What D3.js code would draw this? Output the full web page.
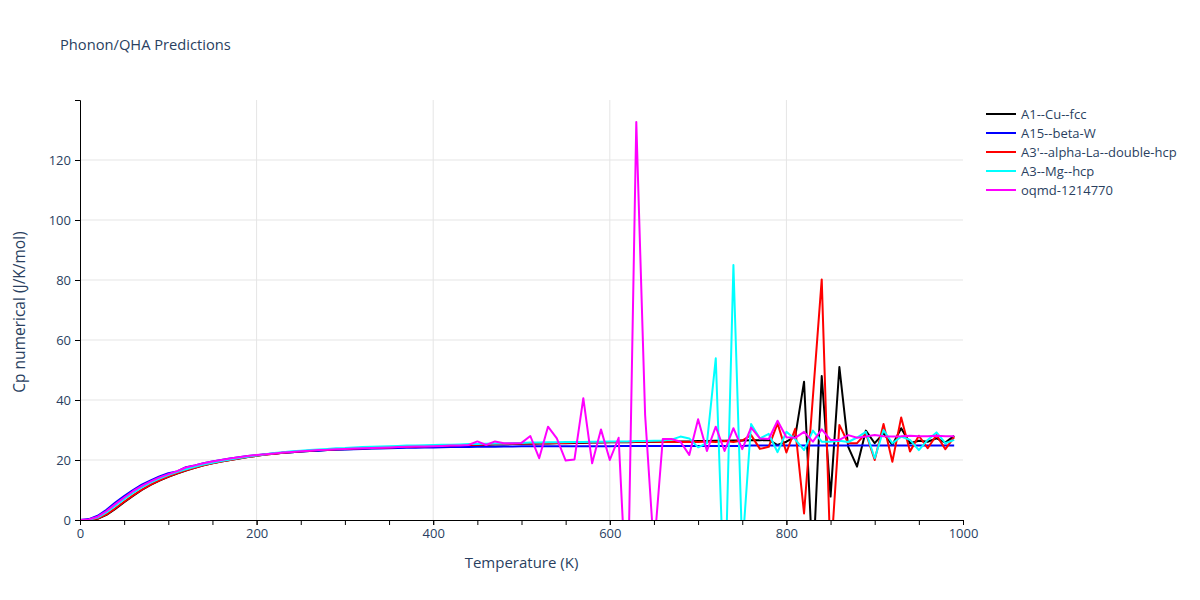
<!DOCTYPE html>
<html>
<head>
<meta charset="utf-8">
<script src="https://cdn.jsdelivr.net/npm/d3@7"></script>
<style>
    body { margin: 0; background: #fff; }
    text { font-family: "Open Sans", verdana, arial, sans-serif; }
</style>
</head>
<body>
<div id="chart"></div>
<script>
// Temperatures (K), one point every 10 K
var temps = d3.range(0, 1000, 10);

// Cp numerical (J/K/mol) for each structure
var cuFcc = [0, 0.05, 0.4, 1.7, 3.7, 5.9, 8.0, 10.0, 11.7, 13.1, 14.4, 15.5, 16.5, 17.4, 18.2, 18.9, 19.5, 20.0, 20.5, 21.0,
    21.4, 21.8, 22.1, 22.4, 22.6, 22.8, 23.0, 23.2, 23.3, 23.5, 23.6, 23.7, 23.8, 23.9, 24.0, 24.1, 24.2, 24.3, 24.4, 24.5,
    24.6, 24.7, 24.8, 24.9, 24.9, 25.0, 25.1, 25.2, 25.2, 25.3, 25.4, 25.4, 25.5, 25.5, 25.6, 25.6, 25.7, 25.7, 25.8, 25.8,
    25.9, 25.9, 25.9, 26.0, 26.0, 26.0, 26.1, 26.1, 26.2, 26.2, 26.3, 26.3, 26.4, 26.4, 26.5, 26.5, 26.6, 26.6, 26.7, 25.0,
    26.1, 27.8, 46.1, -16, 48.0, 7.8, 51.0, 24.4, 17.8, 29.8, 25.6, 28.9, 25.0, 30.6, 25.6, 26.4, 26.1, 27.2, 25.8, 28.1];

var betaW = [0, 0.3, 1.4, 3.4, 5.8, 8.0, 10.0, 11.8, 13.2, 14.5, 15.6, 16.2, 17.6, 18.2, 18.9, 19.5, 20.0, 20.5, 20.9, 21.3,
    21.6, 21.9, 22.2, 22.4, 22.6, 22.8, 23.0, 23.1, 23.3, 23.4, 23.5, 23.6, 23.7, 23.8, 23.85, 23.9, 24.0, 24.05, 24.1, 24.15,
    24.2, 24.25, 24.3, 24.3, 24.35, 24.4, 24.4, 24.45, 24.5, 24.5, 24.55, 24.6, 24.6, 24.6, 24.6, 24.6, 24.6, 24.6, 24.6, 24.6,
    24.6, 24.7, 24.7, 24.7, 24.7, 24.7, 24.7, 24.7, 24.7, 24.7, 24.7, 24.7, 24.7, 24.7, 24.7, 24.7, 24.8, 24.8, 24.8, 24.8,
    24.8, 24.8, 24.8, 24.8, 24.8, 24.8, 24.8, 24.8, 24.8, 24.8, 24.8, 24.8, 24.8, 24.8, 24.8, 24.8, 24.8, 24.8, 24.8, 24.8];

var alphaLa = [0, 0.05, 0.5, 1.9, 3.9, 6.1, 8.2, 10.1, 11.8, 13.2, 14.5, 15.6, 16.6, 17.4, 18.2, 18.9, 19.5, 20.0, 20.5, 21.0,
    21.4, 21.8, 22.1, 22.4, 22.7, 22.9, 23.1, 23.3, 23.4, 23.6, 23.7, 23.8, 23.9, 24.0, 24.1, 24.2, 24.3, 24.4, 24.5, 24.6,
    24.7, 24.8, 24.9, 25.0, 25.0, 25.1, 25.2, 25.3, 25.3, 25.4, 25.5, 25.5, 25.6, 25.6, 25.7, 25.7, 25.8, 25.8, 25.9, 25.9,
    26.0, 26.0, 26.0, 26.1, 26.1, 26.1, 26.0, 26.0, 26.0, 26.0, 26.0, 26.2, 26.0, 26.3, 26.0, 26.5, 28.3, 23.7, 24.4, 32.2,
    22.5, 30.4, 2.2, 41.0, 80.2, -13.5, 31.7, 25.6, 25.6, 28.9, 20.0, 32.0, 19.4, 34.2, 22.8, 28.1, 23.9, 28.3, 23.6, 27.6];

var mgHcp = [0, 0.1, 0.8, 2.5, 4.7, 6.9, 9.0, 10.9, 12.5, 13.8, 15.0, 16.0, 16.9, 17.7, 18.5, 19.1, 19.7, 20.2, 20.7, 21.1,
    21.5, 21.9, 22.3, 22.6, 22.9, 23.1, 23.3, 23.5, 23.7, 23.9, 24.0, 24.2, 24.3, 24.4, 24.5, 24.6, 24.7, 24.8, 24.8, 24.9,
    25.0, 25.1, 25.1, 25.2, 25.3, 25.3, 25.4, 25.5, 25.5, 25.6, 25.7, 25.8, 25.8, 25.9, 25.9, 26.0, 26.0, 26.0, 26.1, 26.1,
    26.2, 26.2, 26.2, 26.3, 26.3, 26.4, 26.5, 26.8, 27.8, 27.2, 24.2, 25.6, 53.9, -30, 85.0, -10, 32.0, 27.2, 28.7, 22.6,
    29.4, 26.9, 23.3, 29.8, 26.1, 26.1, 26.4, 26.0, 27.5, 29.4, 20.6, 30.0, 25.6, 27.8, 26.7, 23.3, 26.7, 29.2, 25.6, 26.7];

var oqmd = [0, 0.2, 1.1, 3.0, 5.3, 7.5, 9.6, 11.4, 12.9, 14.2, 15.3, 16.3, 17.5, 18.2, 18.9, 19.5, 20.0, 20.5, 20.9, 21.3,
    21.7, 21.9, 22.2, 22.5, 22.7, 22.9, 23.1, 23.3, 23.4, 23.6, 23.7, 23.8, 23.9, 24.0, 24.1, 24.2, 24.3, 24.4, 24.5, 24.5,
    24.6, 24.7, 24.8, 24.8, 25.0, 26.2, 25.0, 26.2, 25.6, 25.6, 25.7, 28.0, 20.6, 31.1, 27.2, 19.8, 20.2, 40.6, 18.9, 30.2,
    20.0, 27.4, -32, 132.7, 35.0, -10, 27.0, 27.0, 26.1, 21.7, 33.6, 23.0, 31.1, 23.0, 30.6, 23.6, 30.8, 27.2, 27.0, 33.1,
    27.6, 27.4, 29.4, 26.1, 30.2, 26.7, 26.7, 28.3, 27.4, 27.8, 28.3, 27.9, 27.8, 27.9, 28.1, 27.9, 27.9, 28.1, 27.9, 27.9];

var seriesNames = ["A1--Cu--fcc", "A15--beta-W", "A3'--alpha-La--double-hcp", "A3--Mg--hcp", "oqmd-1214770"];
var seriesValues = [cuFcc, betaW, alphaLa, mgHcp, oqmd];
var seriesColors = ["black", "blue", "red", "cyan", "magenta"];

// Tick labels
var xTickLabels = [0, 200, 400, 600, 800, 1000];
var yTickLabels = [0, 20, 40, 60, 80, 100, 120];

var width = 1200, height = 600;
var margin = { top: 100, right: 237, bottom: 80, left: 80 };
var innerWidth = width - margin.left - margin.right;
var innerHeight = height - margin.top - margin.bottom;
var fontColor = "#2a3f5f";
var gridColor = "#e5e5e5";

var svg = d3.select("#chart")
    .append("svg")
    .attr("width", width)
    .attr("height", height);

var x = d3.scaleLinear().domain([0, 1000]).range([0, innerWidth]);
var y = d3.scaleLinear().domain([0, 140]).range([innerHeight, 0]);

var plot = svg.append("g")
    .attr("transform", `translate(${margin.left}, ${margin.top})`);

// Grid lines
plot.append("g").selectAll("line")
    .data(xTickLabels.filter(d => d > 0 && d < 1000))
    .enter().append("line")
    .attr("x1", d => x(d)).attr("x2", d => x(d))
    .attr("y1", 0).attr("y2", innerHeight)
    .attr("stroke", gridColor).attr("stroke-width", 1);

plot.append("g").selectAll("line")
    .data(yTickLabels.filter(d => d > 0))
    .enter().append("line")
    .attr("x1", 0).attr("x2", innerWidth)
    .attr("y1", d => y(d)).attr("y2", d => y(d))
    .attr("stroke", gridColor).attr("stroke-width", 1);

// Clip the lines to the plot area
svg.append("defs").append("clipPath").attr("id", "plotClip")
    .append("rect").attr("width", innerWidth).attr("height", innerHeight);

var line = d3.line()
    .x((d, i) => x(temps[i]))
    .y(d => y(d));

var linesGroup = plot.append("g").attr("clip-path", "url(#plotClip)");
seriesValues.forEach(function (vals, k) {
    linesGroup.append("path")
        .datum(vals)
        .attr("fill", "none")
        .attr("stroke", seriesColors[k])
        .attr("stroke-width", 2)
        .attr("stroke-linejoin", "round")
        .attr("d", line);
});

// Axes: small ticks every 50 K, labels every 200 K
var xMinor = plot.append("g")
    .attr("transform", `translate(0, ${innerHeight})`)
    .call(d3.axisBottom(x).tickValues(d3.range(0, 1001, 50)).tickFormat("").tickSizeOuter(0).tickSize(5));
xMinor.selectAll("text").remove();

var xAxis = plot.append("g")
    .attr("transform", `translate(0, ${innerHeight})`)
    .call(d3.axisBottom(x).tickValues(xTickLabels).tickFormat(d3.format("d"))
        .tickSizeOuter(0).tickSize(5).tickPadding(4));

var yAxis = plot.append("g")
    .call(d3.axisLeft(y).tickValues(yTickLabels).tickFormat(d3.format("d"))
        .tickSizeOuter(0).tickSize(5).tickPadding(4));

[xMinor, xAxis, yAxis].forEach(function (ax) {
    ax.select(".domain").attr("stroke", "black").attr("stroke-width", 1);
    ax.selectAll("line").attr("stroke", "black");
    ax.selectAll("text").attr("fill", fontColor).style("font-size", "13px");
});

// Axis titles
svg.append("text")
    .attr("x", margin.left + innerWidth / 2)
    .attr("y", 568)
    .attr("text-anchor", "middle")
    .attr("fill", fontColor)
    .style("font-size", "15px")
    .text("Temperature (K)");

svg.append("text")
    .attr("transform", "rotate(-90)")
    .attr("x", -(margin.top + innerHeight / 2 + 2))
    .attr("y", 25)
    .attr("text-anchor", "middle")
    .attr("fill", fontColor)
    .style("font-size", "15.5px")
    .text("Cp numerical (J/K/mol)");

// Title
svg.append("text")
    .attr("x", 60)
    .attr("y", 50)
    .attr("fill", fontColor)
    .style("font-size", "14.7px")
    .text("Phonon/QHA Predictions");

// Legend
var legend = svg.append("g").attr("transform", "translate(986, 114)");
seriesNames.forEach(function (name, k) {
    var row = legend.append("g").attr("transform", `translate(0, ${k * 19})`);
    row.append("line")
        .attr("x1", 0).attr("x2", 30)
        .attr("stroke", seriesColors[k]).attr("stroke-width", 2);
    row.append("text")
        .attr("x", 35).attr("y", 4.5)
        .attr("fill", fontColor)
        .style("font-size", "13px")
        .text(name);
});
</script>
</body>
</html>
